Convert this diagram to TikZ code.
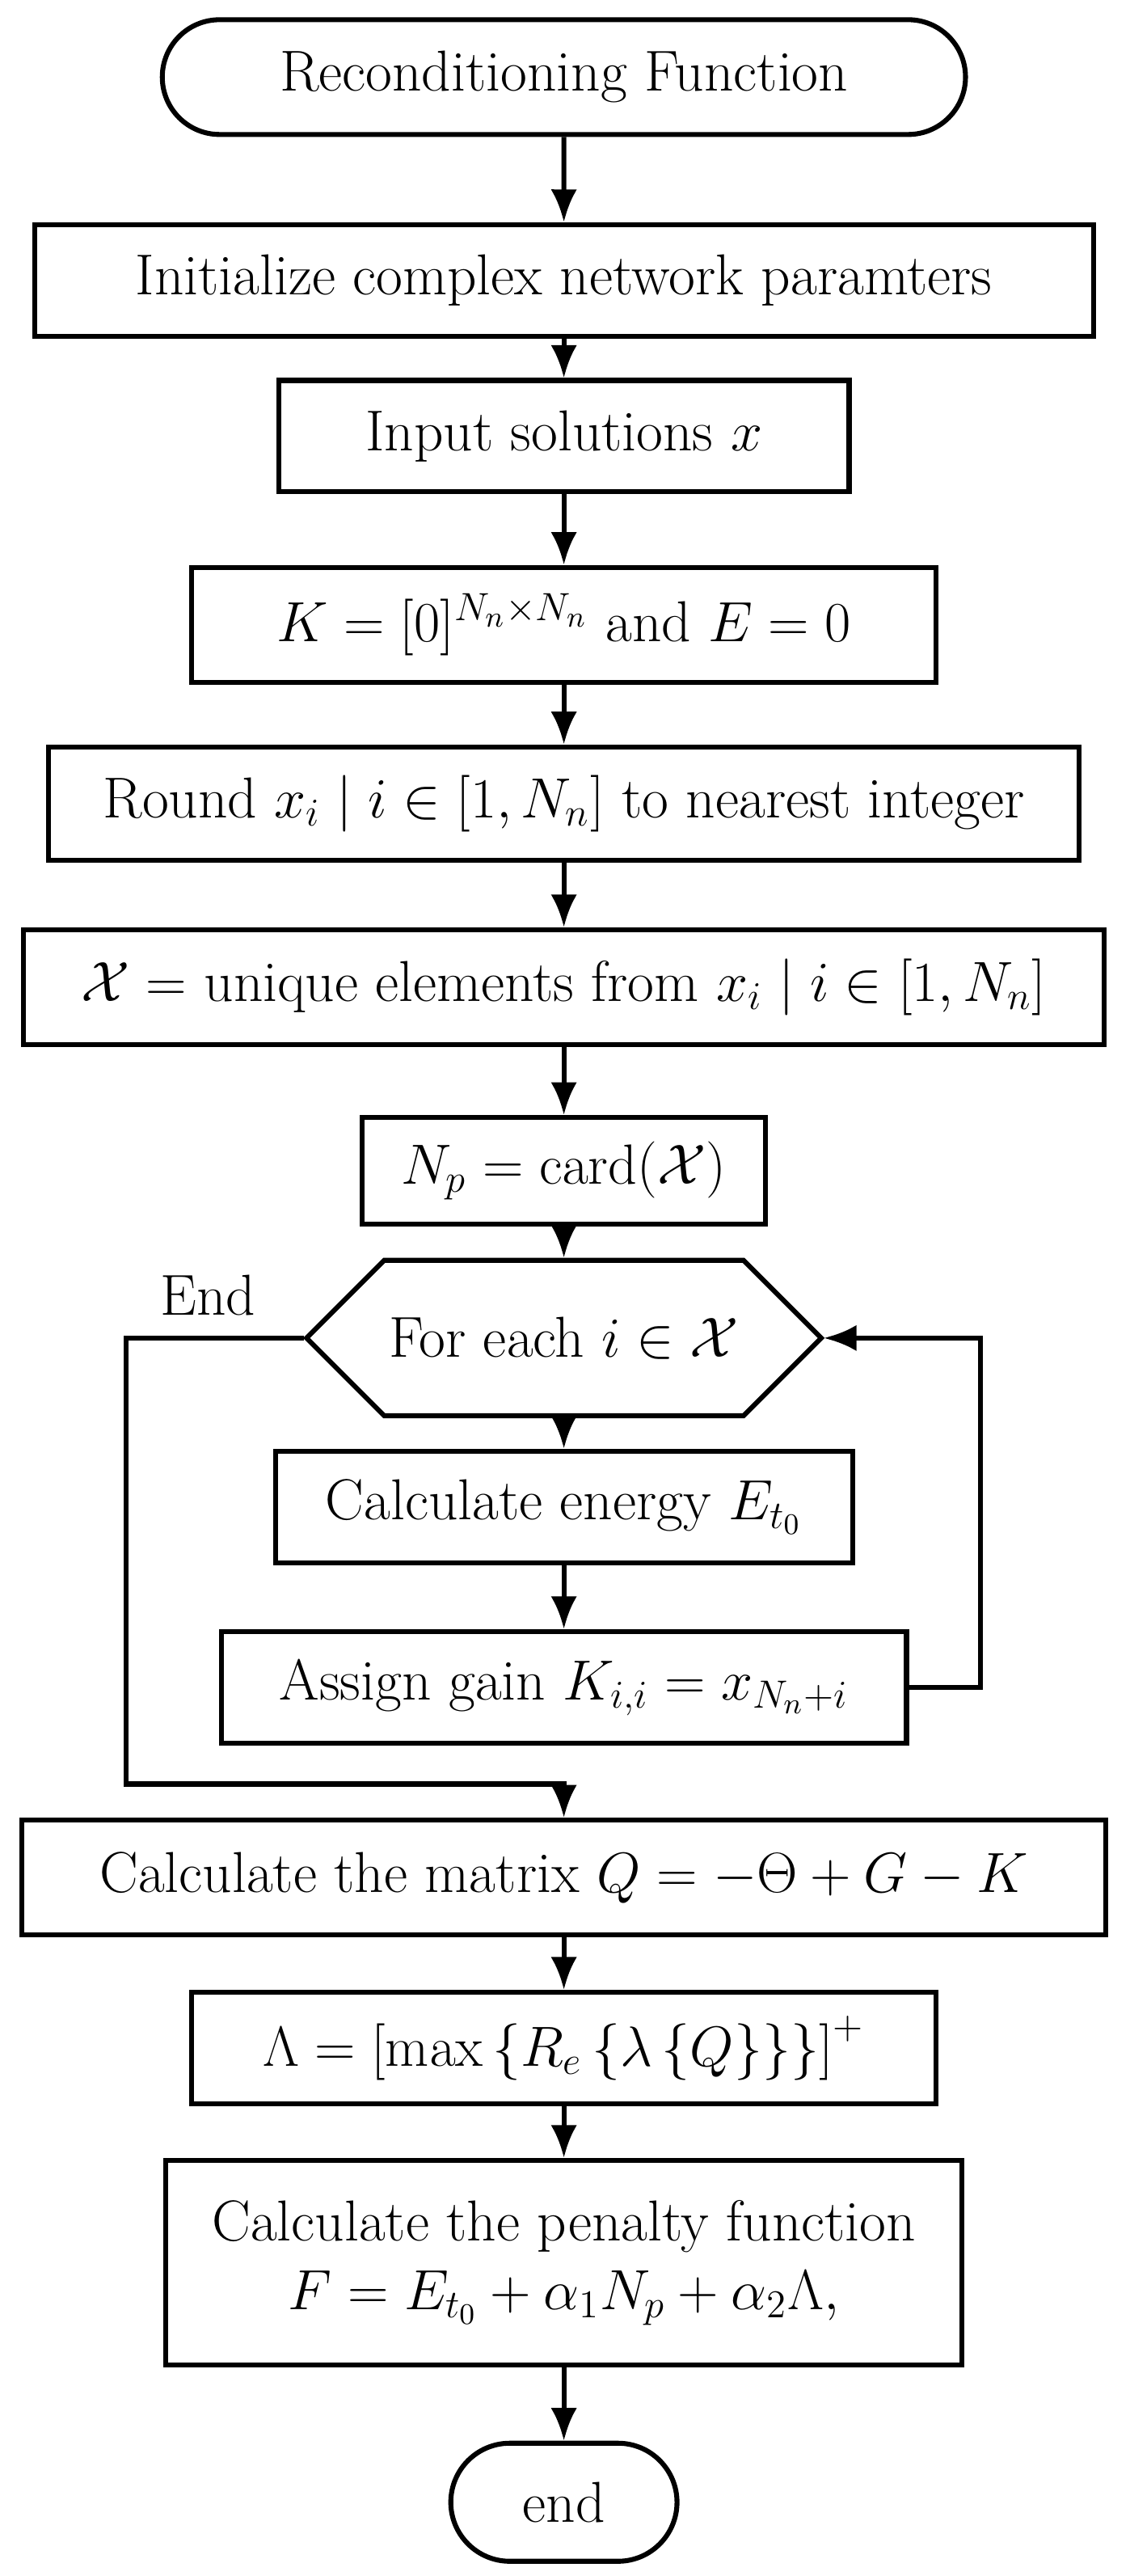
\documentclass[tikz,border=0pt]{standalone}
\usepackage{amsmath,amssymb}
\usetikzlibrary{arrows.meta,shapes.misc,shapes.geometric}
\begin{document}
\begin{tikzpicture}[x=0.5pt,y=-0.5pt,
  every node/.style={font=\fontsize{17.6}{21}\selectfont, inner sep=0pt, line width=1.5pt, draw},
  box/.style={rectangle},
  term/.style={rounded rectangle},
  ar/.style={line width=1.5pt,-{Latex[length=10pt,width=8pt]}},
  ln/.style={line width=1.5pt}]
\useasboundingbox (0,0) rectangle (689,1571);
\newcommand{\bx}[7]{\node[#1,minimum width=#4*0.5pt,minimum height=#5*0.5pt] (#2) at (#3,#6) {#7};}
\bx{term}{s}{344}{490}{70}{47}{Reconditioning Function}
\bx{box}{a}{344}{646}{68}{171}{Initialize complex network paramters}
\bx{box}{b}{344}{348}{68}{266}{Input solutions $x$}
\bx{box}{c}{344}{454}{70}{381}{$K=[0]^{N_n\times N_n}$ and $E=0$}
\bx{box}{d}{344}{629}{69}{490}{Round $x_i\mid i\in[1,N_n]$ to nearest integer}
\bx{box}{e}{344}{659}{70}{602}{$\mathcal{X}=$ unique elements from $x_i\mid i\in[1,N_n]$}
\bx{box}{f}{344}{246}{65}{714}{$N_p=\mathrm{card}(\mathcal{X})$}
\node[chamfered rectangle,chamfered rectangle xsep=21pt,chamfered rectangle ysep=17.25pt,minimum width=157pt,minimum height=34.5pt] (g) at (344,816) {For each $i\in\mathcal{X}$};
\bx{box}{h}{344}{352}{68}{919}{Calculate energy $E_{t_0}$}
\bx{box}{i}{344}{418}{68}{1029}{Assign gain $K_{i,i}=x_{N_n+i}$}
\bx{box}{j}{344}{661}{70}{1145}{Calculate the matrix $Q=-\Theta+G-K$}
\bx{box}{k}{344}{454}{68}{1249}{$\Lambda=\left[\max\left\{R_e\left\{\lambda\left\{Q\right\}\right\}\right\}\right]^{+}$}
\node[box,minimum width=243pt,minimum height=62.5pt,align=center] (l) at (344,1380) {Calculate the penalty function\\$F=E_{t_0}+\alpha_1N_p+\alpha_2\Lambda,$};
\bx{term}{m}{344}{138}{72}{1526}{end}
\node[draw=none] at (127,790) {End};
\draw[ar] (s) -- (a); \draw[ar] (a) -- (b); \draw[ar] (b) -- (c);
\draw[ar] (c) -- (d); \draw[ar] (d) -- (e); \draw[ar] (e) -- (f);
\draw[ar] (f) -- (g); \draw[ar] (g) -- (h); \draw[ar] (h) -- (i);
\draw[ar] (i.east) -- (598,1029) -- (598,816) -- (g.east);
\draw[ar] (g.west) -- (77,816) -- (77,1088) -- (344,1088) -- (j.north);
\draw[ar] (j) -- (k); \draw[ar] (k) -- (l); \draw[ar] (l) -- (m);
\end{tikzpicture}
\end{document}
